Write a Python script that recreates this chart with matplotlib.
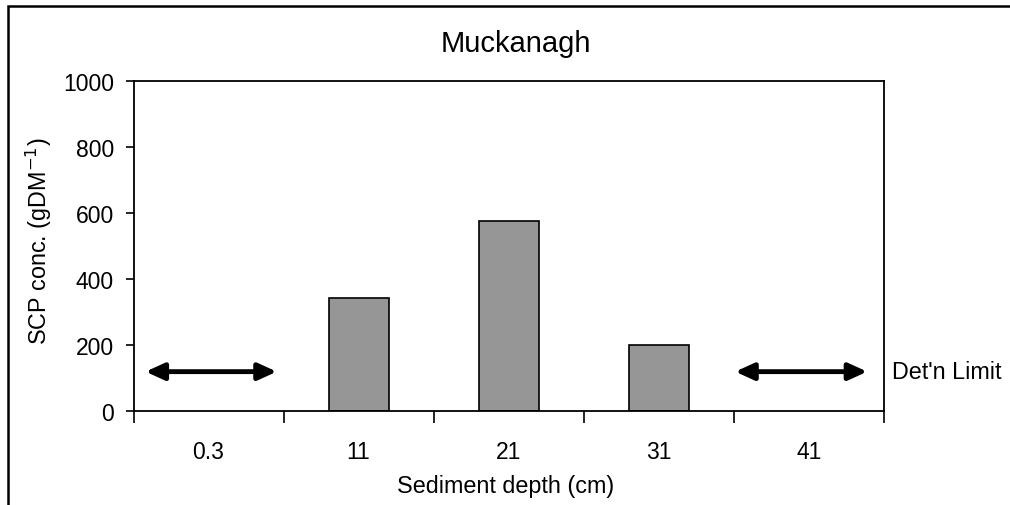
"""
SCP concentration profile, Muckanagh
"""
import numpy as np
import matplotlib.pyplot as plt
from matplotlib.patches import Rectangle

plt.rcParams['font.family'] = ['Liberation Sans', 'DejaVu Sans']

depths = ["0.3", "11", "21", "31", "41"]
scp = [np.nan, 342, 575, 200, np.nan]   # nan = below detection limit
det_limit = 120
below_limit = [0, 4]                    # samples under the detection limit

fig = plt.figure(figsize=(10.1, 5.06), dpi=100)
ax = fig.add_axes([0.1322, 0.1852, 0.7428, 0.6528])

x = np.arange(len(depths))
ax.bar(x, scp, width=0.4, color="#969696", edgecolor="black", linewidth=1.2, zorder=2)

# det'n limit arrows
arrow_span = {0: (-0.42, 0.455), 4: (3.51, 4.39)}
for i in below_limit:
    x0, x1 = arrow_span[i]
    ax.annotate("", xy=(x1, det_limit), xytext=(x0, det_limit),
                arrowprops=dict(arrowstyle="<|-|>,head_length=1.1,head_width=0.5",
                                lw=3.5, color="black", shrinkA=0, shrinkB=0))
ax.text(4.555, det_limit, "Det'n Limit", fontsize=16.8, va="center", ha="left",
        clip_on=False)

ax.set_xlim(-0.5, len(depths) - 0.5)
ax.set_ylim(0, 1000)
ax.set_yticks(np.arange(0, 1001, 200))

# ticks on the category boundaries, labels in the middle
ax.set_xticks(np.arange(-0.5, len(depths), 1.0))
ax.set_xticklabels([])
ax.set_xticks(x, minor=True)
ax.set_xticklabels(depths, minor=True)
ax.tick_params(axis="x", which="major", direction="out", length=8.5, width=1.2)
ax.tick_params(axis="x", which="minor", length=0, pad=21, labelsize=16.5)
ax.tick_params(axis="y", direction="out", length=6, width=1.2, pad=8, labelsize=16.5)

for s in ax.spines.values():
    s.set_linewidth(1.3)

fig.text(0.511, 1 - 44 / 506, "Muckanagh", fontsize=21, ha="center", va="center")
fig.text(0.039, 1 - 241 / 506, "SCP conc. (gDM$^{-1}$)", fontsize=16.8,
         rotation=90, ha="center", va="center")
fig.text(0.501, 1 - 487 / 506, "Sediment depth (cm)", fontsize=16.8,
         ha="center", va="center")

# outer frame
fig.patches.append(Rectangle((8 / 1010, -0.1), 1.2, 1.1 - 7 / 506,
                             transform=fig.transFigure, fill=False,
                             edgecolor="black", linewidth=1.8))

fig.savefig("out.png", dpi=100)
